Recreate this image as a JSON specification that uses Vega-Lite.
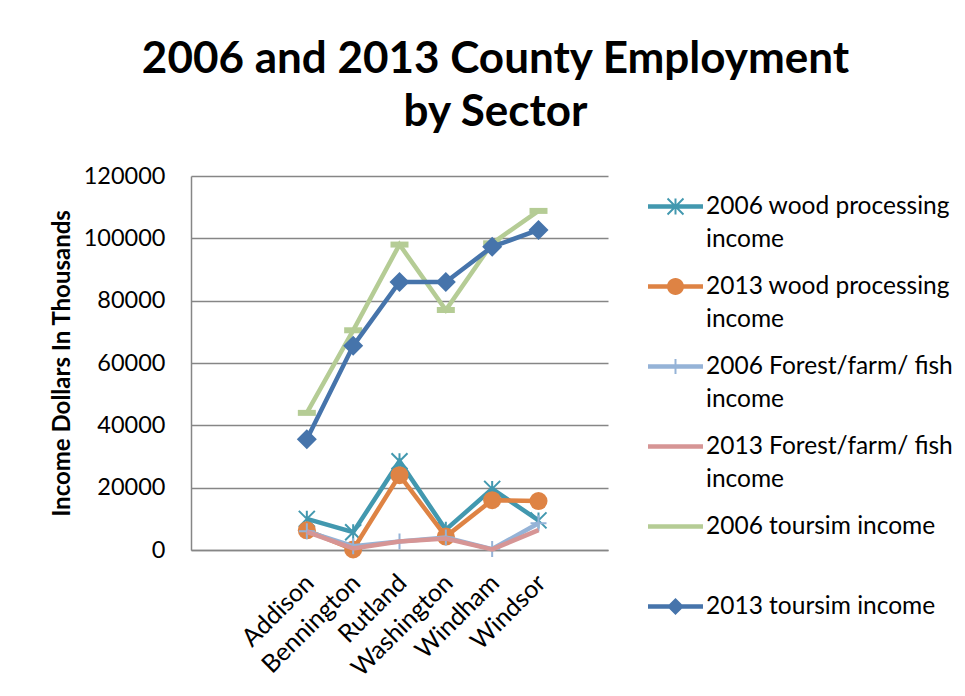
{
  "$schema": "https://vega.github.io/schema/vega-lite/v6.json",
  "width": 417,
  "height": 374,
  "autosize": {"type": "none"},
  "padding": {"left": 191, "top": 176, "right": 357, "bottom": 146},
  "background": "white",
  "config": {"view": {"stroke": null}, "font": "Lato"},
  "title": {
    "text": ["2006 and 2013 County Employment", "by Sector"],
    "font": "Lato",
    "fontSize": 44,
    "fontWeight": "bold",
    "color": "black",
    "lineHeight": 53,
    "anchor": "middle",
    "dx": 96,
    "dy": 57,
    "offset": 51,
    "baseline": "alphabetic"
  },
  "data": {
    "values": [
      {"county": "Addison", "series": "2006 wood processing income", "value": 10000},
      {"county": "Bennington", "series": "2006 wood processing income", "value": 5700},
      {"county": "Rutland", "series": "2006 wood processing income", "value": 28500},
      {"county": "Washington", "series": "2006 wood processing income", "value": 6500},
      {"county": "Windham", "series": "2006 wood processing income", "value": 19600},
      {"county": "Windsor", "series": "2006 wood processing income", "value": 9500},
      {"county": "Addison", "series": "2013 wood processing income", "value": 6300},
      {"county": "Bennington", "series": "2013 wood processing income", "value": 200},
      {"county": "Rutland", "series": "2013 wood processing income", "value": 24000},
      {"county": "Washington", "series": "2013 wood processing income", "value": 4300},
      {"county": "Windham", "series": "2013 wood processing income", "value": 16000},
      {"county": "Windsor", "series": "2013 wood processing income", "value": 15700},
      {"county": "Addison", "series": "2006 Forest/farm/ fish income", "value": 6000},
      {"county": "Bennington", "series": "2006 Forest/farm/ fish income", "value": 1200},
      {"county": "Rutland", "series": "2006 Forest/farm/ fish income", "value": 2700},
      {"county": "Washington", "series": "2006 Forest/farm/ fish income", "value": 4000},
      {"county": "Windham", "series": "2006 Forest/farm/ fish income", "value": 300},
      {"county": "Windsor", "series": "2006 Forest/farm/ fish income", "value": 8600},
      {"county": "Addison", "series": "2013 Forest/farm/ fish income", "value": 5800},
      {"county": "Bennington", "series": "2013 Forest/farm/ fish income", "value": 500},
      {"county": "Rutland", "series": "2013 Forest/farm/ fish income", "value": 2700},
      {"county": "Washington", "series": "2013 Forest/farm/ fish income", "value": 3700},
      {"county": "Windham", "series": "2013 Forest/farm/ fish income", "value": 200},
      {"county": "Windsor", "series": "2013 Forest/farm/ fish income", "value": 6400},
      {"county": "Addison", "series": "2006 toursim income", "value": 44000},
      {"county": "Bennington", "series": "2006 toursim income", "value": 70500},
      {"county": "Rutland", "series": "2006 toursim income", "value": 98000},
      {"county": "Washington", "series": "2006 toursim income", "value": 77000},
      {"county": "Windham", "series": "2006 toursim income", "value": 98400},
      {"county": "Windsor", "series": "2006 toursim income", "value": 108800},
      {"county": "Addison", "series": "2013 toursim income", "value": 35500},
      {"county": "Bennington", "series": "2013 toursim income", "value": 65500},
      {"county": "Rutland", "series": "2013 toursim income", "value": 86000},
      {"county": "Washington", "series": "2013 toursim income", "value": 86000},
      {"county": "Windham", "series": "2013 toursim income", "value": 97300},
      {"county": "Windsor", "series": "2013 toursim income", "value": 102700}
    ]
  },
  "encoding": {
    "x": {
      "field": "county",
      "type": "nominal",
      "sort": null,
      "scale": {"type": "point", "domain": ["_1", "_2", "Addison", "Bennington", "Rutland", "Washington", "Windham", "Windsor", "_3"], "padding": 0.5},
      "axis": {
        "title": null,
        "labelExpr": "indexof(datum.label, '_') == 0 ? '' : datum.label",
        "labelAngle": -45,
        "labelFontSize": 25,
        "labelColor": "black",
        "labelOverlap": false,
        "labelPadding": 20,
        "labelOffset": -6,
        "ticks": false,
        "grid": false,
        "domainColor": "#868686",
        "domainWidth": 1.5
      }
    },
    "y": {
      "field": "value",
      "type": "quantitative",
      "scale": {"domain": [0, 120000]},
      "axis": {
        "title": "Income Dollars In Thousands",
        "titleFontSize": 24,
        "titleFontWeight": "bold",
        "titleColor": "black",
        "titlePadding": 9,
        "values": [0, 20000, 40000, 60000, 80000, 100000, 120000],
        "format": "d",
        "labelFontSize": 23.5,
        "labelColor": "black",
        "labelPadding": 26,
        "ticks": false,
        "grid": true,
        "gridColor": "#868686",
        "gridWidth": 1.5,
        "domainColor": "#868686",
        "domainWidth": 1.5
      }
    }
  },
  "layer": [
    {
      "transform": [{"filter": "datum.series == '2006 wood processing income'"}],
      "mark": {"type": "line", "strokeWidth": 4.5},
      "encoding": {
        "color": {
          "field": "series", "type": "nominal",
          "scale": {
            "domain": ["2006 wood processing income", "2013 wood processing income", "2006 Forest/farm/ fish income", "2013 Forest/farm/ fish income", "2006 toursim income", "2013 toursim income"],
            "range": ["#4298AF", "#DE8344", "#95B3D7", "#D69595", "#B5CC95", "#4674AB"]
          },
          "legend": {
            "title": null, "orient": "right", "offset": 37, "padding": 3,
            "symbolSize": 3025, "labelFontSize": 24.5, "labelColor": "black", "labelLimit": 400,
            "labelOffset": 3, "rowPadding": 8,
            "labelExpr": "indexof(datum.label, 'toursim') >= 0 ? [datum.label, ' '] : [slice(datum.label, 0, lastindexof(datum.label, ' ')), 'income']",
            "encode": {
              "symbols": {"update": {
                "shape": {"signal": "datum.value == '2006 wood processing income' ? 'M-1,-0.082L1,-0.082L1,0.082L-1,0.082ZM-0.036,-0.29L0.036,-0.29L0.036,0.29L-0.036,0.29ZM-0.265,-0.315L0.315,0.265L0.265,0.315L-0.315,-0.265ZM0.265,-0.315L0.315,-0.265L-0.265,0.315L-0.315,0.265Z' : datum.value == '2013 wood processing income' ? 'M-1,-0.082L1,-0.082L1,0.082L-1,0.082ZM-0.31,0A0.31,0.31,0,1,1,0.31,0A0.31,0.31,0,1,1,-0.31,0Z' : datum.value == '2006 Forest/farm/ fish income' ? 'M-1,-0.082L1,-0.082L1,0.082L-1,0.082ZM-0.036,-0.27L0.036,-0.27L0.036,0.27L-0.036,0.27Z' : datum.value == '2013 toursim income' ? 'M-1,-0.082L1,-0.082L1,0.082L-1,0.082ZM0,-0.31L0.31,0L0,0.31L-0.31,0Z' : 'M-1,-0.082L1,-0.082L1,0.082L-1,0.082Z'"},
                "fill": {"scale": "color", "field": "value"},
                "stroke": {"value": "transparent"},
                "strokeWidth": {"value": 0},
                "size": {"value": 3025},
                "opacity": {"value": 1}
              }},
              "labels": {"update": {"lineHeight": {"value": 33}}}
            }
          }
        }
      }
    },
    {
      "transform": [{"filter": "datum.series == '2006 wood processing income'"}],
      "mark": {"type": "point", "shape": "M-1,-1L1,1M1,-1L-1,1M0,-1L0,1", "filled": false, "size": 256, "strokeWidth": 2, "color": "#4298AF", "opacity": 1}
    },
    {
      "transform": [{"filter": "datum.series == '2013 wood processing income'"}],
      "mark": {"type": "line", "strokeWidth": 4.5},
      "encoding": {"color": {"field": "series", "type": "nominal"}}
    },
    {
      "transform": [{"filter": "datum.series == '2013 wood processing income'"}],
      "mark": {"type": "point", "shape": "circle", "filled": true, "size": 324, "color": "#DE8344", "opacity": 1}
    },
    {
      "transform": [{"filter": "datum.series == '2006 Forest/farm/ fish income'"}],
      "mark": {"type": "line", "strokeWidth": 4.5},
      "encoding": {"color": {"field": "series", "type": "nominal"}}
    },
    {
      "transform": [{"filter": "datum.series == '2006 Forest/farm/ fish income'"}],
      "mark": {"type": "point", "shape": "M0,-1L0,1M-1,0L1,0", "filled": false, "size": 256, "strokeWidth": 2, "color": "#95B3D7", "opacity": 1}
    },
    {
      "transform": [{"filter": "datum.series == '2013 Forest/farm/ fish income'"}],
      "mark": {"type": "line", "strokeWidth": 4.5},
      "encoding": {"color": {"field": "series", "type": "nominal"}}
    },
    {
      "transform": [{"filter": "datum.series == '2006 toursim income'"}],
      "mark": {"type": "line", "strokeWidth": 4.5},
      "encoding": {"color": {"field": "series", "type": "nominal"}}
    },
    {
      "transform": [{"filter": "datum.series == '2006 toursim income'"}],
      "mark": {"type": "point", "shape": "M-1,0L1,0", "filled": false, "size": 324, "strokeWidth": 6, "color": "#B5CC95", "opacity": 1}
    },
    {
      "transform": [{"filter": "datum.series == '2013 toursim income'"}],
      "mark": {"type": "line", "strokeWidth": 4.5},
      "encoding": {"color": {"field": "series", "type": "nominal"}}
    },
    {
      "transform": [{"filter": "datum.series == '2013 toursim income'"}],
      "mark": {"type": "point", "shape": "diamond", "filled": true, "size": 400, "color": "#4674AB", "opacity": 1}
    }
  ]
}
